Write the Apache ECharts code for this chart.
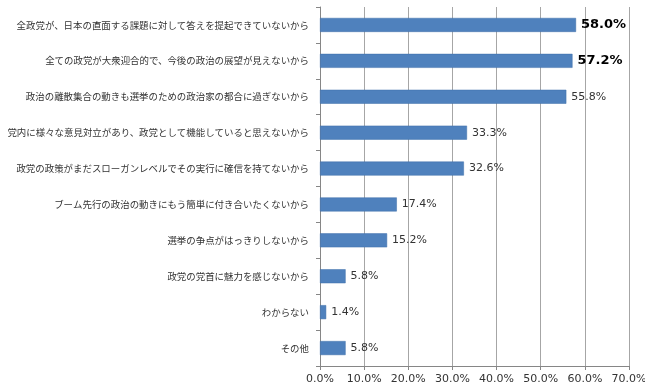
<!DOCTYPE html>
<html><head><meta charset="utf-8">
<script src="https://cdn.jsdelivr.net/npm/echarts@6/dist/echarts.min.js"></script>
<style>html,body{margin:0;padding:0;background:#fff}#c{width:645px;height:390px}</style>
</head><body><div id="c"></div>
<script>
const categories = [
  "全政党が、日本の直面する課題に対して答えを提起できていないから",
  "全ての政党が大衆迎合的で、今後の政治の展望が見えないから",
  "政治の離散集合の動きも選挙のための政治家の都合に過ぎないから",
  "党内に様々な意見対立があり、政党として機能していると思えないから",
  "政党の政策がまだスローガンレベルでその実行に確信を持てないから",
  "ブーム先行の政治の動きにもう簡単に付き合いたくないから",
  "選挙の争点がはっきりしないから",
  "政党の党首に魅力を感じないから",
  "わからない",
  "その他"
];
const values = [58.0, 57.2, 55.8, 33.3, 32.6, 17.4, 15.2, 5.8, 1.4, 5.8];
const boldCount = 2;

const chart = echarts.init(document.getElementById('c'), null, {renderer:'canvas'});
chart.setOption({
  animation:false,
  grid:{left:320,right:16,top:7,bottom:24,containLabel:false,outerBoundsMode:'none'},
  xAxis:{
    type:'value',min:0,max:70,interval:10,
    axisLine:{show:true,lineStyle:{color:'#868686',width:1}},
    axisTick:{show:true,length:4,lineStyle:{color:'#868686'}},
    axisLabel:{formatter:v=>v.toFixed(1)+'%',color:'#333',fontSize:11,fontFamily:'DejaVu Sans',margin:8},
    splitLine:{show:true,lineStyle:{color:'#a6a6a6',width:1}}
  },
  yAxis:{
    type:'category',data:categories,inverse:true,
    axisLine:{show:true,lineStyle:{color:'#868686',width:1}},
    axisTick:{show:true,length:4,lineStyle:{color:'#868686'}},
    axisLabel:{color:'#333',fontSize:9.45,fontFamily:'Noto Sans CJK JP',margin:11},
    splitLine:{show:false}
  },
  series:[{
    type:'bar',
    data:values.map((v,i)=>({value:v,label:i<boldCount?{fontSize:13,fontWeight:'bold',color:'#000'}:{}})),
    barWidth:14,
    itemStyle:{color:'#4f81bd',borderColor:'#3f6fa8',borderWidth:0.5},
    label:{show:true,position:'right',distance:5,formatter:p=>p.value.toFixed(1)+'%',color:'#333',fontSize:11,fontFamily:'DejaVu Sans'}
  }]
});
</script></body></html>
